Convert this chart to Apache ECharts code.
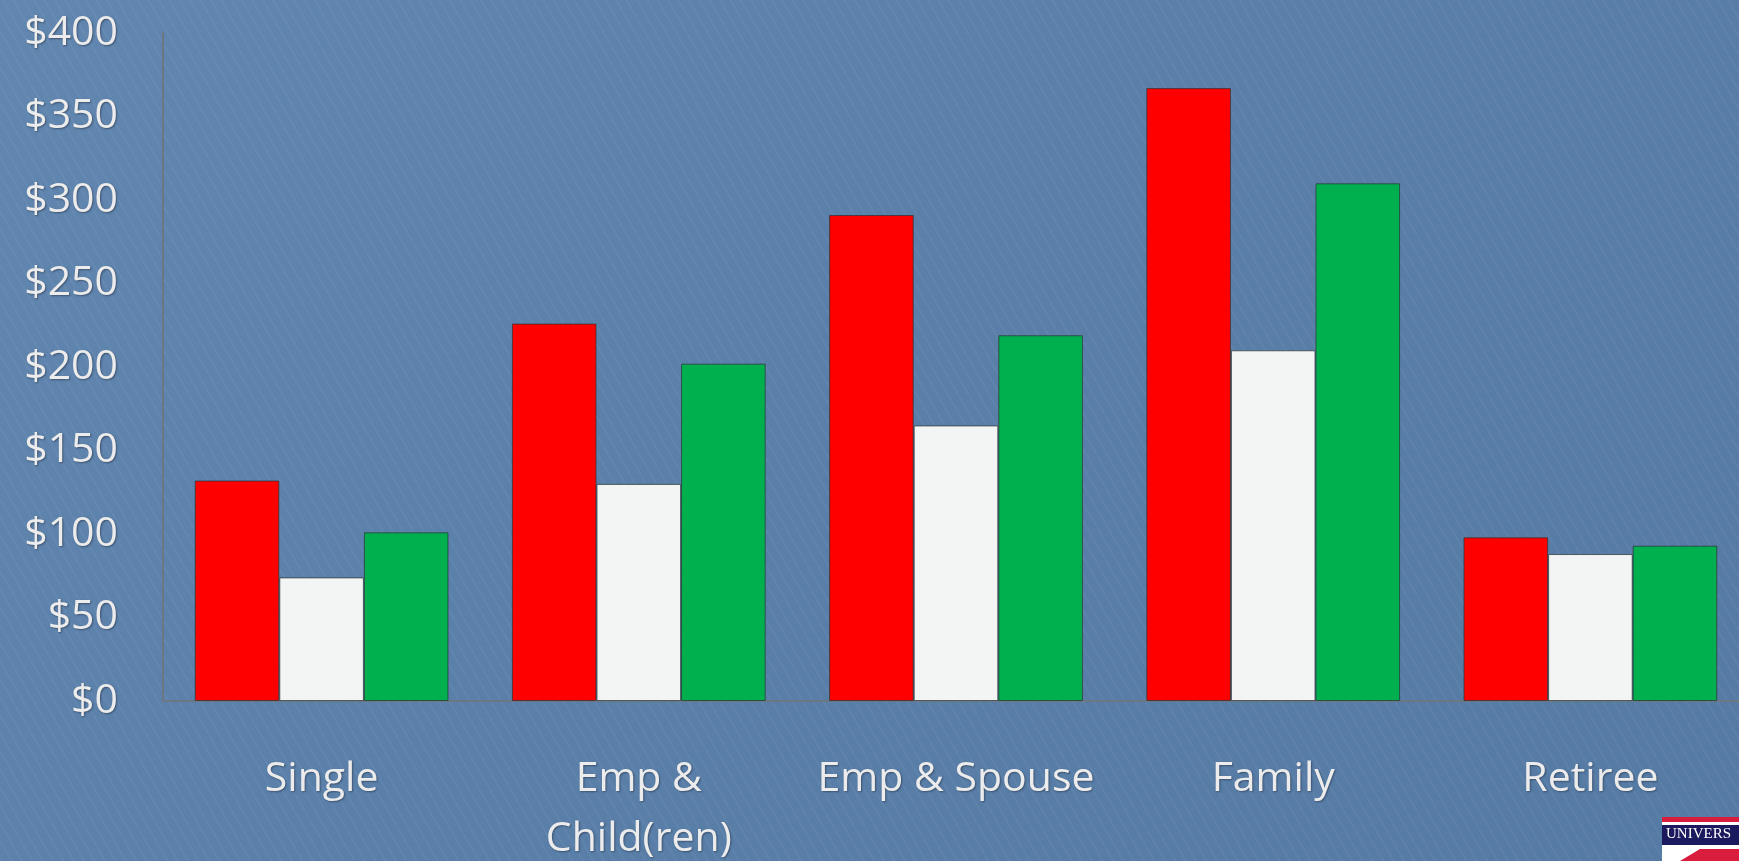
<!DOCTYPE html>
<html>
<head>
<meta charset="utf-8">
<script src="https://cdn.jsdelivr.net/npm/echarts@6/dist/echarts.min.js"></script>
<style>
  html, body { margin: 0; padding: 0; overflow: hidden; }
  #chart {
    width: 1739px; height: 861px;
    background:
      repeating-linear-gradient(60deg, rgba(255,255,255,0.035) 0px, rgba(255,255,255,0.035) 2px, rgba(0,0,0,0) 2px, rgba(0,0,0,0) 9px),
      linear-gradient(135deg, #6187b0 0%, #5a80aa 45%, #557ba5 100%);
  }
</style>
</head>
<body>
<div id="chart"></div>
<script>
// values
const categories = ['Single', 'Emp &\nChild(ren)', 'Emp & Spouse', 'Family', 'Retiree'];
const redValues = [132, 226, 291, 367, 98];
const whiteValues = [74, 130, 165, 210, 88];
const greenValues = [101, 202, 219, 310, 93];
const yTicks = { min: 0, max: 400, interval: 50 };

const chart = echarts.init(document.getElementById('chart'));

const textStyle = {
  color: '#ececec',
  fontFamily: 'Open Sans',
  fontSize: 41,
  textShadowColor: 'rgba(40,50,70,0.6)',
  textShadowBlur: 2,
  textShadowOffsetX: 1,
  textShadowOffsetY: 1
};

function barSeries(data, color) {
  return {
    type: 'bar',
    data: data,
    barGap: '0%',
    barCategoryGap: '20%',
    itemStyle: {
      color: color,
      borderColor: 'rgba(40,50,50,0.7)',
      borderWidth: 1
    }
  };
}

chart.setOption({
  animation: false,
  grid: { left: 163, right: -10, top: 33, bottom: 160, outerBoundsMode: 'none', containLabel: false },
  xAxis: {
    type: 'category',
    data: categories,
    axisLine: { lineStyle: { color: '#6b7782', width: 2 } },
    axisTick: { show: false },
    axisLabel: Object.assign({}, textStyle, { margin: 48, lineHeight: 60, interval: 0 })
  },
  yAxis: {
    type: 'value',
    min: yTicks.min,
    max: yTicks.max,
    interval: yTicks.interval,
    splitLine: { show: false },
    axisLine: { show: true, lineStyle: { color: '#6b7782', width: 2 } },
    axisTick: { show: false },
    axisLabel: Object.assign({}, textStyle, {
      margin: 45,
      formatter: function (v) { return '$' + v; }
    })
  },
  series: [
    barSeries(redValues, '#ff0000'),
    barSeries(whiteValues, '#f3f5f4'),
    barSeries(greenValues, '#00b04f')
  ],
  graphic: [
    { type: 'rect', left: 1662, top: 817, shape: { width: 80, height: 5 }, style: { fill: '#d81e3c' } },
    { type: 'rect', left: 1662, top: 822, shape: { width: 80, height: 3 }, style: { fill: '#ffffff' } },
    { type: 'rect', left: 1662, top: 825, shape: { width: 80, height: 20 }, style: { fill: '#1c1a5e' } },
    { type: 'text', left: 1666, top: 827, style: { text: 'UNIVERS', fill: '#ffffff', font: '15px "Liberation Serif"' } },
    { type: 'rect', left: 1662, top: 845, shape: { width: 80, height: 16 }, style: { fill: '#ffffff' } },
    { type: 'polygon', shape: { points: [[1680, 861], [1700, 849], [1739, 849], [1739, 861]] }, style: { fill: '#d81e3c' } }
  ]
});
</script>
</body>
</html>
